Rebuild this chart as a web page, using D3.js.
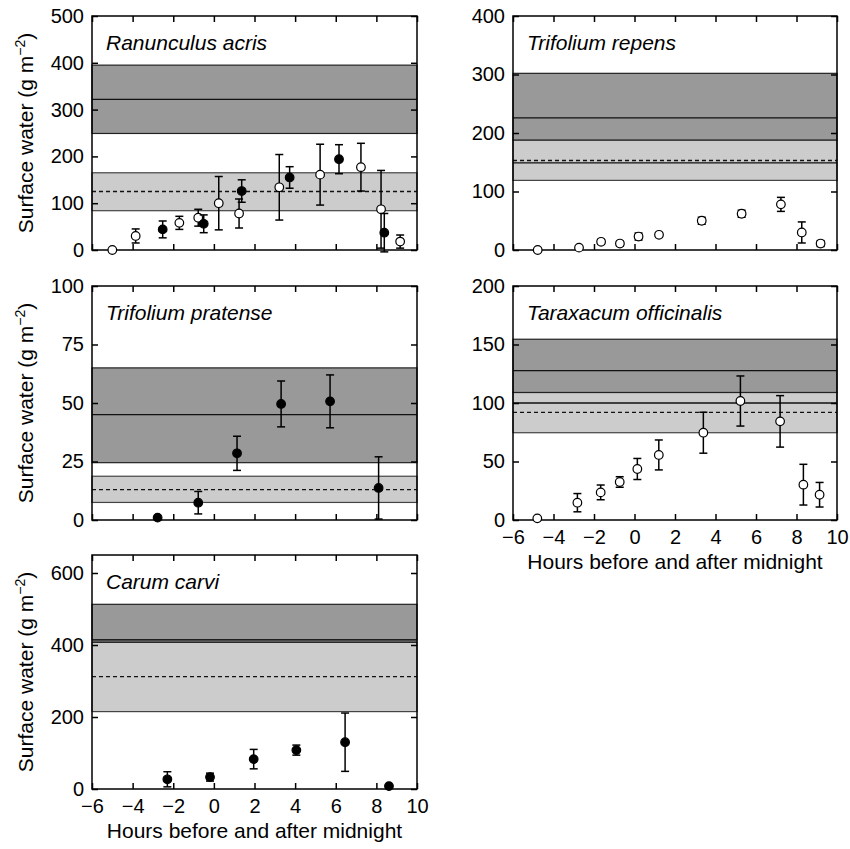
<!DOCTYPE html>
<html>
<head>
<meta charset="utf-8">
<script src="https://cdn.jsdelivr.net/npm/d3@7"></script>
<style>
  html, body { margin: 0; padding: 0; background: #fff; }
  svg { display: block; font-family: "Liberation Sans", Arial, Helvetica, sans-serif; }
</style>
</head>
<body>
<svg id="chart" width="850" height="849"></svg>
<script>
// ---- Data (x = hours before/after midnight, y = surface water g m^-2, e = error half-width) ----
const xTicks = [-6, -4, -2, 0, 2, 4, 6, 8, 10];

const ranunculusOpen = [
  [-5.0, 0, 0], [-3.85, 30, 15], [-1.7, 58, 14], [-0.77, 69, 18], [0.24, 100, 57],
  [1.24, 78, 31], [3.22, 134, 70], [5.23, 161, 65], [7.24, 177, 51], [8.23, 87, 83], [9.17, 18, 14]
];
const ranunculusFilled = [
  [-2.52, 44, 18], [-0.5, 56, 19], [1.37, 126, 24], [3.73, 155, 23], [6.16, 194, 31], [8.39, 37, 41]
];
const repensOpen = [
  [-4.78, 0, 0], [-2.74, 4, 2], [-1.65, 14, 4], [-0.72, 11, 4], [0.2, 23, 6], [1.21, 26, 3],
  [3.32, 50, 6], [5.29, 62, 6], [7.23, 78, 12], [8.26, 30, 18], [9.19, 11, 5]
];
const pratenseFilled = [
  [-2.77, 1, 0], [-0.77, 7.4, 4.8], [1.14, 28.5, 7.3], [3.31, 49.6, 9.8], [5.72, 50.7, 11.3], [8.11, 13.7, 13.3]
];
const taraxacumOpen = [
  [-4.8, 1.4, 0], [-2.82, 14.8, 7.8], [-1.67, 23.6, 6.3], [-0.73, 32.5, 4.5], [0.14, 43.6, 9],
  [1.2, 55.6, 12.8], [3.4, 74.6, 17.5], [5.23, 101.7, 21.4], [7.19, 84.3, 22], [8.34, 30.2, 17.4], [9.14, 21.6, 10.5]
];
const carumFilled = [
  [-2.29, 27, 21], [-0.19, 33, 11], [1.96, 83, 27], [4.06, 108, 14], [6.46, 130, 81], [8.62, 8, 0]
];

// reference bands: [low, high]
const darkBands  = { ran: [249, 395], rep: [188, 302], pra: [24.5, 65], tar: [109, 154.5], car: [414, 513] };
const lightBands = { ran: [84, 165],  rep: [119, 188], pra: [7.5, 18.7], tar: [74.6, 109], car: [215, 408] };
const solidLines = { ran: [322], rep: [226, 149], pra: [45], tar: [127.6, 100], car: [414, 408] };
const dashedLines = { ran: [125], rep: [153], pra: [13], tar: [92], car: [312] };

const yTicks = {
  ran: [0, 100, 200, 300, 400, 500],
  rep: [0, 100, 200, 300, 400],
  pra: [0, 25, 50, 75, 100],
  tar: [0, 50, 100, 150, 200],
  car: [0, 200, 400, 600]
};
const yMax = { ran: 500, rep: 400, pra: 100, tar: 200, car: 650 };
const titles = {
  ran: "Ranunculus acris", rep: "Trifolium repens", pra: "Trifolium pratense",
  tar: "Taraxacum officinalis", car: "Carum carvi"
};
const xTitle = "Hours before and after midnight";

// ---- Layout ----
const panels = [
  { key: "ran", x0: 92,  x1: 417, y0: 16,  y1: 250, open: ranunculusOpen, filled: ranunculusFilled, ylab: true,  xlab: false },
  { key: "rep", x0: 513, x1: 837, y0: 16,  y1: 250, open: repensOpen,     filled: [],               ylab: false, xlab: false },
  { key: "pra", x0: 92,  x1: 417, y0: 286, y1: 520, open: [],             filled: pratenseFilled,   ylab: true,  xlab: false },
  { key: "tar", x0: 513, x1: 837, y0: 286, y1: 520, open: taraxacumOpen,  filled: [],               ylab: false, xlab: true },
  { key: "car", x0: 92,  x1: 417, y0: 555, y1: 789, open: [],             filled: carumFilled,      ylab: true,  xlab: true }
];

const svg = d3.select("#chart");
const TL = 6;       // tick length
const FS = 20;      // tick font size
const FT = 21;      // title / axis-label font size

panels.forEach(p => {
  const x = d3.scaleLinear().domain([-6, 10]).range([p.x0, p.x1]);
  const y = d3.scaleLinear().domain([0, yMax[p.key]]).range([p.y1, p.y0]);
  const g = svg.append("g");
  const W = p.x1 - p.x0;

  // light band
  const lb = lightBands[p.key];
  g.append("rect").attr("x", p.x0).attr("width", W)
    .attr("y", y(lb[1])).attr("height", y(lb[0]) - y(lb[1]))
    .attr("fill", "#cccccc").attr("stroke", "#444").attr("stroke-width", 1.2);
  // dark band
  const db = darkBands[p.key];
  g.append("rect").attr("x", p.x0).attr("width", W)
    .attr("y", y(db[1])).attr("height", y(db[0]) - y(db[1]))
    .attr("fill", "#999999").attr("stroke", "#222").attr("stroke-width", 1.2);
  // solid reference lines
  solidLines[p.key].forEach(v => {
    g.append("line").attr("x1", p.x0).attr("x2", p.x1).attr("y1", y(v)).attr("y2", y(v))
      .attr("stroke", "#111").attr("stroke-width", 1.3);
  });
  dashedLines[p.key].forEach(v => {
    g.append("line").attr("x1", p.x0).attr("x2", p.x1).attr("y1", y(v)).attr("y2", y(v))
      .attr("stroke", "#111").attr("stroke-width", 1.3).attr("stroke-dasharray", "4,3");
  });

  // frame
  g.append("rect").attr("x", p.x0).attr("y", p.y0).attr("width", W).attr("height", p.y1 - p.y0)
    .attr("fill", "none").attr("stroke", "#000").attr("stroke-width", 1.5);

  // axes with inward ticks on all sides
  const axB = d3.axisBottom(x).tickValues(xTicks).tickSizeInner(-TL).tickSizeOuter(0)
    .tickFormat(p.xlab ? (d => d < 0 ? "\u2212" + Math.abs(d) : d) : "");
  const gb = g.append("g").attr("transform", `translate(0,${p.y1})`).call(axB);
  const axT = d3.axisTop(x).tickValues(xTicks).tickSizeInner(-TL).tickSizeOuter(0).tickFormat("");
  const gt = g.append("g").attr("transform", `translate(0,${p.y0})`).call(axT);
  const axL = d3.axisLeft(y).tickValues(yTicks[p.key]).tickSizeInner(-TL).tickSizeOuter(0);
  const gl = g.append("g").attr("transform", `translate(${p.x0},0)`).call(axL);
  const axR = d3.axisRight(y).tickValues(yTicks[p.key]).tickSizeInner(-TL).tickSizeOuter(0).tickFormat("");
  const gr = g.append("g").attr("transform", `translate(${p.x1},0)`).call(axR);
  [gb, gt, gl, gr].forEach(a => {
    a.select(".domain").remove();
    a.selectAll(".tick line").attr("stroke", "#000").attr("stroke-width", 1.5);
    a.selectAll("text").attr("font-size", FS).attr("fill", "#000")
      .attr("font-family", "'Liberation Sans', Arial, sans-serif");
  });
  gl.selectAll("text").attr("x", -8);
  gb.selectAll("text").attr("y", 10);

  // title
  g.append("text").attr("x", p.x0 + 14).attr("y", p.y0 + 34)
    .attr("font-size", FT).attr("font-style", "italic").text(titles[p.key]);

  // y label
  if (p.ylab) {
    const t = g.append("text")
      .attr("transform", `translate(33,${(p.y0 + p.y1) / 2}) rotate(-90)`)
      .attr("text-anchor", "middle").attr("font-size", FT);
    t.append("tspan").text("Surface water (g m");
    t.append("tspan").attr("dy", -8).attr("font-size", 14).text("\u22122");
    t.append("tspan").attr("dy", 8).text(")");
  }
  if (p.xlab) {
    g.append("text").attr("x", (p.x0 + p.x1) / 2).attr("y", p.y1 + 49)
      .attr("text-anchor", "middle").attr("font-size", FT).text(xTitle);
  }

  // error bars + points
  const drawSeries = (data, filled) => {
    const s = g.append("g");
    data.forEach(d => {
      if (d[2] > 0) {
        const cx = x(d[0]), ya = y(d[1] + d[2]), yb = y(d[1] - d[2]);
        s.append("line").attr("x1", cx).attr("x2", cx).attr("y1", ya).attr("y2", yb)
          .attr("stroke", "#000").attr("stroke-width", 1.5);
        [ya, yb].forEach(yy => s.append("line").attr("x1", cx - 4).attr("x2", cx + 4)
          .attr("y1", yy).attr("y2", yy).attr("stroke", "#000").attr("stroke-width", 1.5));
      }
    });
    s.selectAll("circle").data(data).join("circle")
      .attr("cx", d => x(d[0])).attr("cy", d => y(d[1])).attr("r", 4.3)
      .attr("fill", filled ? "#000" : "#fff").attr("stroke", "#000").attr("stroke-width", 1.2);
  };
  drawSeries(p.open, false);
  drawSeries(p.filled, true);
});
</script>
</body>
</html>
